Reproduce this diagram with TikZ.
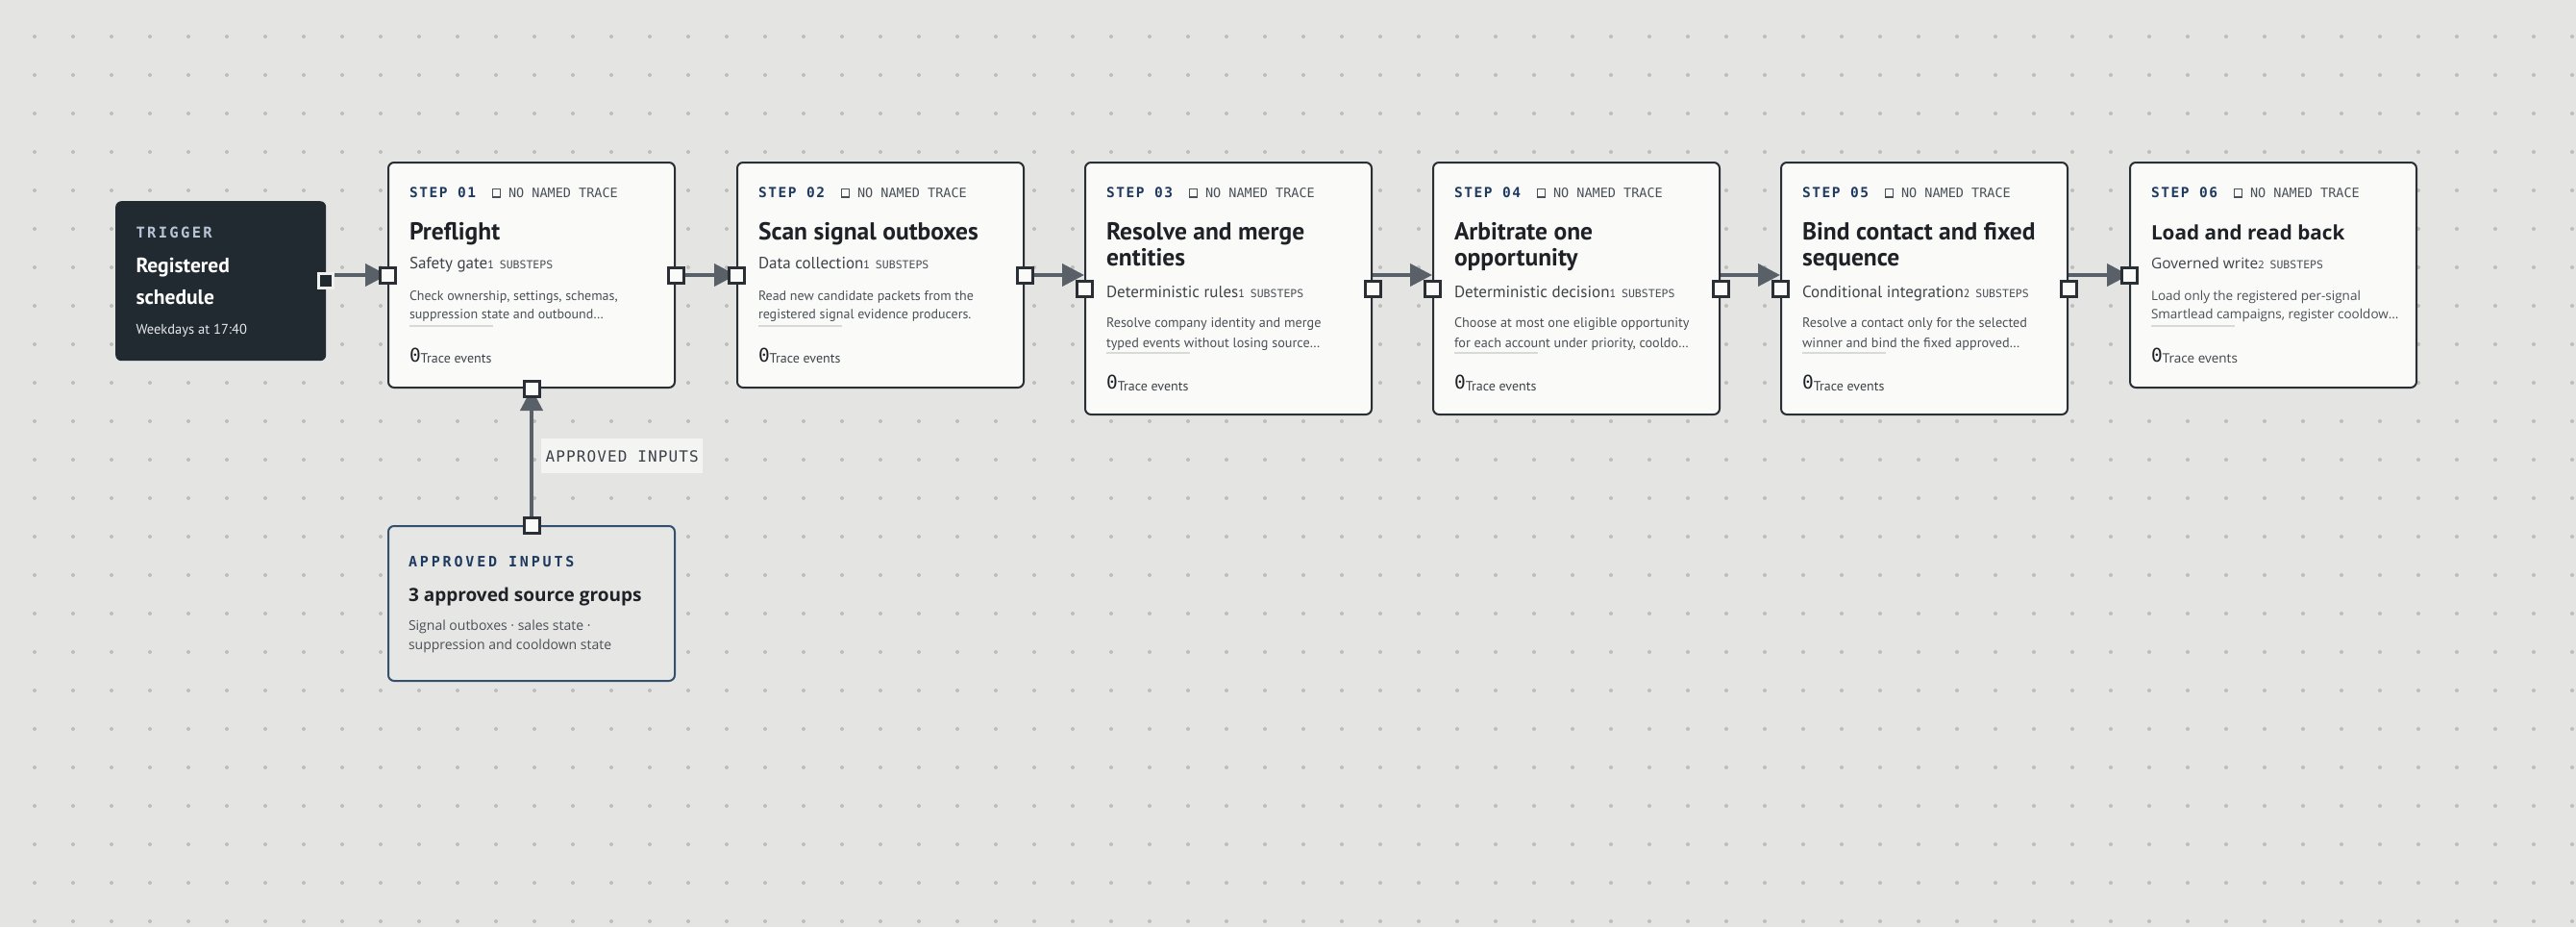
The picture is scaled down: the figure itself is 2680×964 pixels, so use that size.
\documentclass[tikz,border=0pt]{standalone}
\usepackage{fontspec}
\setmainfont{PT Sans}
\newfontfamily\notosans{Open Sans}
\newfontfamily\monof{DejaVu Sans Mono}
\newfontfamily\monostep[LetterSpace=11]{DejaVu Sans Mono}
\newfontfamily\monotrig[LetterSpace=15]{DejaVu Sans Mono}
\newfontfamily\monowide[LetterSpace=19]{DejaVu Sans Mono}
\newfontfamily\monolbl[LetterSpace=7]{DejaVu Sans Mono}
\usetikzlibrary{arrows.meta}
\definecolor{bgc}{HTML}{E4E4E2}
\definecolor{dotc}{HTML}{BDBDBB}
\definecolor{cardfill}{HTML}{FAFAF8}
\definecolor{cardline}{HTML}{2A2F35}
\definecolor{trigfill}{HTML}{222A31}
\definecolor{trigport}{HTML}{F0F0EE}
\definecolor{navy}{HTML}{1E3A5F}
\definecolor{greyt}{HTML}{4A5058}
\definecolor{darkt}{HTML}{1E2227}
\definecolor{subt}{HTML}{3E434A}
\definecolor{desct}{HTML}{4B5057}
\definecolor{uline}{HTML}{D9D9D7}
\definecolor{arrowc}{HTML}{5A6068}
\definecolor{apbord}{HTML}{34506F}
\definecolor{apfill}{HTML}{E6E6E4}
\definecolor{lblfill}{HTML}{F4F4F2}
\definecolor{lblt}{HTML}{3C4147}
\definecolor{trigl}{HTML}{B6C4D6}
\definecolor{trigsub}{HTML}{E6EAEE}
\pgfdeclarelayer{bglayer}
\pgfdeclarelayer{connlayer}
\pgfsetlayers{bglayer,connlayer,main}
\newcommand\fs[1]{\fontsize{#1}{#1}\selectfont}
\def\TitleFont{\bfseries\fs{25.5}}
\def\SubFont{\fs{17}}
\def\CountFont{\fs{12}}
\def\DescFont{\fs{14}}
\def\DescFontTall{\fs{14.2}}
\def\TraceFont{\fs{14}}
% #1 id, #2 left x, #3 number, #4 title line 1, #5 title line 2, #6 subtitle, #7 count, #8 desc 1, #9 desc 2
\newcommand{\StepCard}[9]{%
  \if\relax\detokenize{#5}\relax
    \def\cardh{234}\def\dyA{0}\def\dyB{0}\def\dlsp{18.7}\let\DF\DescFont
  \else
    \def\cardh{262}\def\dyA{28.4}\def\dyB{29.7}\def\dlsp{21}\let\DF\DescFontTall
  \fi
  \node[card, minimum height=\cardh pt] (#1) at (#2,168) {};
  \node[txt, text=navy] (#1num) at (#2+23,205.5) {\monostep\bfseries\fs{14.5}STEP #3};
  \node[sqicon] (#1sq) at (#2+113.5,200.8) {};
  \node[txt, text=greyt] (#1nt) at (#2+126,205.5) {\monof\fs{13.5}NO NAMED TRACE};
  \node[txt, text=darkt] (#1ta) at (#2+23,249) {\TitleFont #4};
  \if\relax\detokenize{#5}\relax\else
    \node[txt, text=darkt] (#1tb) at (#2+23,276.7) {\TitleFont #5};
  \fi
  \node[txt, text=subt] (#1sub) at (#2+23,279.3+\dyB) {\SubFont #6{\CountFont #7}\hspace{6pt}{\monof\fs{11.5}\color{greyt}SUBSTEPS}};
  \node[txt, text=desct] (#1da) at (#2+23,312.3+\dyA) {\DF #8};
  \node[txt, text=desct] (#1db) at (#2+23,312.3+\dyA+\dlsp) {\DF #9};
  \draw[uline] (#2+23,339+\dyA) -- (#2+110,339+\dyA);
  \node[txt, text=darkt] (#1z) at (#2+23,376.5+\dyA) {{\monof\fs{19.5}0}{\TraceFont\color{subt}\raisebox{-1.2pt}{Trace events}}};
  \node[port] (#1L) at (#1.west) {};
}
\begin{document}
\begin{tikzpicture}[x=1pt,y=-1pt,
  card/.style={draw=cardline, line width=2pt, fill=cardfill, rounded corners=6pt, inner sep=0pt, anchor=north west, minimum width=298pt},
  txt/.style={anchor=base west, inner sep=0pt, outer sep=0pt},
  sqicon/.style={draw=greyt, line width=1.4pt, minimum size=8.5pt, inner sep=0pt},
  port/.style={draw=cardline, line width=3pt, fill=cardfill, minimum size=16pt, inner sep=0pt},
  tport/.style={draw=trigport, line width=3pt, fill=trigfill, minimum size=15pt, inner sep=0pt},
  conn/.style={draw=arrowc, line width=4pt, -{Triangle[length=23pt,width=23pt]}},
  uline/.style={draw=uline, line width=2pt},
]
\useasboundingbox (0,0) rectangle (2680,964);
\begin{pgfonlayer}{bglayer}
  \fill[bgc] (0,0) rectangle (2680,964);
  \foreach \i in {0,...,66} {
    \foreach \j in {0,...,23} {
      \fill[dotc] (36+40*\i,38+40*\j) circle (2pt);
    }
  }
\end{pgfonlayer}

% Trigger
\node[fill=trigfill, rounded corners=6pt, inner sep=0pt, anchor=north west, minimum width=219pt, minimum height=166pt] (trig) at (120,209) {};
\node[txt, text=trigl] (trigk) at (141.5,247.3) {\monotrig\bfseries\fs{15.5}TRIGGER};
\node[txt, text=white] (triga) at (141.5,283.3) {\bfseries\fs{21.5}Registered};
\node[txt, text=white] (trigb) at (141.5,316.7) {\bfseries\fs{21.5}schedule};
\node[txt, text=trigsub] (trigc) at (141.5,347.3) {\fs{14.5}Weekdays at 17:40};
\node[tport] (tp) at (trig.east) {};

% Steps
\StepCard{s1}{403}{01}{Preflight}{}{Safety gate}{1}{Check ownership, settings, schemas,}{suppression state and outbound\ldots}
\node[port] (s1R) at (s1.east) {};
\node[port] (s1B) at (s1.south) {};
\StepCard{s2}{766}{02}{Scan signal outboxes}{}{Data collection}{1}{Read new candidate packets from the}{registered signal evidence producers.}
\node[port] (s2R) at (s2.east) {};
\StepCard{s3}{1128}{03}{Resolve and merge}{entities}{Deterministic rules}{1}{Resolve company identity and merge}{typed events without losing source\ldots}
\node[port] (s3R) at (s3.east) {};
\StepCard{s4}{1490}{04}{Arbitrate one}{opportunity}{Deterministic decision}{1}{Choose at most one eligible opportunity}{for each account under priority, cooldo\ldots}
\node[port] (s4R) at (s4.east) {};
\StepCard{s5}{1852}{05}{Bind contact and fixed}{sequence}{Conditional integration}{2}{Resolve a contact only for the selected}{winner and bind the fixed approved\ldots}
\node[port] (s5R) at (s5.east) {};
\def\TitleFont{\notosans\bfseries\fs{20.7}}
\def\SubFont{\notosans\fs{15.5}}
\def\CountFont{\notosans\fs{11}}
\def\DescFont{\notosans\fs{13.5}}
\def\TraceFont{\notosans\fs{13.5}}
\StepCard{s6}{2215}{06}{Load and read back}{}{Governed write}{2}{Load only the registered per-signal}{Smartlead campaigns, register cooldow\ldots}

% Approved inputs
\node[draw=apbord, line width=2pt, fill=apfill, rounded corners=6pt, inner sep=0pt, anchor=north west, minimum width=298pt, minimum height=161pt] (apin) at (403,546) {};
\node[txt, text=navy] (apk) at (425,589) {\monowide\bfseries\fs{15}APPROVED INPUTS};
\node[txt, text=darkt] (apt) at (425,625) {\notosans\bfseries\fs{19}3 approved source groups};
\node[txt, text=desct] (apda) at (425,655) {\notosans\fs{14}Signal outboxes · sales state ·};
\node[txt, text=desct] (apdb) at (425,675) {\notosans\fs{14}suppression and cooldown state};
\node[port] (apP) at (apin.north) {};

% label
\node[fill=lblfill, inner sep=0pt, anchor=north west, minimum width=168pt, minimum height=36pt, text=lblt] (lbl) at (563,456) {\monolbl\fs{16}APPROVED INPUTS};

% connectors
\begin{pgfonlayer}{connlayer}
  \draw[conn] (tp.east |- s1L) -- (s1.west);
  \draw[conn] (s1R.east) -- (s2.west);
  \draw[conn] (s2R.east) -- (s3.west |- s2R);
  \draw[conn] (s3.east |- s2R) -- (s4.west |- s2R);
  \draw[conn] (s4.east |- s2R) -- (s5.west |- s2R);
  \draw[conn] (s5.east |- s6L) -- (s6.west);
  \draw[conn] (apP.north) -- (s1.south);
\end{pgfonlayer}
\end{tikzpicture}
\end{document}
